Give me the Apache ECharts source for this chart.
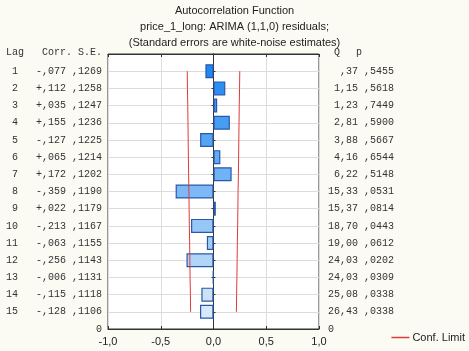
<!DOCTYPE html>
<html>
<head>
<meta charset="utf-8">
<script src="https://cdn.jsdelivr.net/npm/echarts@6/dist/echarts.min.js"></script>
<style>
  html, body { margin: 0; padding: 0; background: #fbfbf4; }
  #chart { width: 469px; height: 351px; }
</style>
</head>
<body>
<div id="chart"></div>
<script>
// Table values
var lags = [1, 2, 3, 4, 5, 6, 7, 8, 9, 10, 11, 12, 13, 14, 15];
var corr = [-0.077, 0.112, 0.035, 0.155, -0.127, 0.065, 0.172, -0.359, 0.022, -0.213, -0.063, -0.256, -0.006, -0.115, -0.128];
var stdErr = [0.1269, 0.1258, 0.1247, 0.1236, 0.1225, 0.1214, 0.1202, 0.1190, 0.1179, 0.1167, 0.1155, 0.1143, 0.1131, 0.1118, 0.1106];
var qStat = [0.37, 1.15, 1.23, 2.81, 3.88, 4.16, 6.22, 15.33, 15.37, 18.70, 19.00, 24.03, 24.03, 25.08, 26.43];
var pVal = [0.5455, 0.5618, 0.7449, 0.5900, 0.5667, 0.6544, 0.5148, 0.0531, 0.0814, 0.0443, 0.0612, 0.0202, 0.0309, 0.0338, 0.0338];
var confLimit = [0.249, 0.247, 0.244, 0.242, 0.240, 0.238, 0.236, 0.233, 0.231, 0.229, 0.226, 0.224, 0.222, 0.219, 0.217];
var xTicks = [-1, -0.5, 0, 0.5, 1];

var mono = "'Liberation Mono', 'Courier New', monospace";
var sans = "'Liberation Sans', Arial, sans-serif";

// category rows: 0 (top edge) .. 16 (bottom edge)
var rows = [];
for (var r = 0; r <= 16; r++) rows.push(String(r));

function fmtFrac(v, digits) {
	// ",1269" style, no leading zero, comma decimal
	var s = Math.abs(v).toFixed(digits).replace('.', ',');
	if (s.charAt(0) == '0') s = s.substring(1);
	return s;
}

function leftLabel(value, idx) {
	if (idx == 16) return '0';
	var i = lags.indexOf(idx);
	if (i < 0) return '';
	var lag = String(lags[i]);
	if (lag.length < 2) lag = ' ' + lag;
	var sign = corr[i] < 0 ? '-' : '+';
	return lag + '   ' + sign + fmtFrac(corr[i], 3) + ' ' + fmtFrac(stdErr[i], 4);
}

function rightLabel(value, idx) {
	if (idx == 16) return '0';
	var i = lags.indexOf(idx);
	if (i < 0) return '';
	var q = fmtFrac(qStat[i], 2);
	while (q.length < 5) q = ' ' + q;
	return q + ' ' + fmtFrac(pVal[i], 4);
}

var chart = echarts.init(document.getElementById('chart'));

var option = {
	animation: false,
	backgroundColor: '#fbfbf4',
	title: {
		text: 'Autocorrelation Function\nprice_1_long: ARIMA (1,1,0) residuals;\n(Standard errors are white-noise estimates)',
		left: 'center',
		top: 3,
		padding: 0,
		textStyle: { fontFamily: sans, fontSize: 11, fontWeight: 'normal', color: '#222', lineHeight: 16 }
	},
	legend: {
		data: [{ name: 'Conf. Limit', icon: 'rect' }],
		right: 4,
		bottom: 8,
		padding: 0,
		itemWidth: 18,
		itemHeight: 1.5,
		textStyle: { fontFamily: sans, fontSize: 11, color: '#222', padding: [0, 0, 0, -2] }
	},
	grid: {
		left: 108, right: 150, top: 54, bottom: 22,
		show: true,
		backgroundColor: '#ffffff',
		borderColor: '#333',
		borderWidth: 1
	},
	xAxis: [{
		type: 'value',
		min: -1, max: 1, interval: 0.5,
		axisLine: { show: true, lineStyle: { color: '#333' } },
		axisTick: { show: true, inside: true, length: 3, lineStyle: { color: '#333' } },
		splitLine: { show: true, lineStyle: { color: '#dcdcdc' } },
		axisLabel: {
			margin: 7,
			fontFamily: sans, fontSize: 11, color: '#222',
			formatter: function (v) {
				if (xTicks.indexOf(v) < 0) return '';
				return v.toFixed(1).replace('.', ',');
			}
		}
	}, {
		type: 'value',
		position: 'top',
		min: -1, max: 1, interval: 0.5,
		axisLine: { show: true, lineStyle: { color: '#333' } },
		axisTick: { show: true, inside: true, length: 3, lineStyle: { color: '#333' } },
		axisLabel: { show: false },
		splitLine: { show: false }
	}],
	yAxis: [{
		type: 'category',
		data: rows,
		inverse: true,
		boundaryGap: false,
		axisLine: { show: true, lineStyle: { color: '#333' } },
		axisTick: { show: true, inside: true, length: 2, interval: 0, lineStyle: { color: '#333' } },
		splitLine: { show: true, interval: 0, lineStyle: { color: '#dcdcdc' } },
		axisLabel: {
			interval: 0, margin: 6,
			fontFamily: mono, fontSize: 10, color: '#333',
			formatter: leftLabel
		}
	}, {
		type: 'category',
		data: rows,
		inverse: true,
		boundaryGap: false,
		position: 'right',
		axisLine: { show: true, lineStyle: { color: '#333' } },
		axisTick: { show: true, inside: true, length: 2, interval: 0, lineStyle: { color: '#333' } },
		splitLine: { show: false },
		axisLabel: {
			interval: 0, margin: 9,
			fontFamily: mono, fontSize: 10, color: '#333',
			formatter: rightLabel
		}
	}],
	graphic: [
		{ type: 'text', left: 6, top: 47, style: { text: 'Lag   Corr. S.E.', font: '10px ' + mono, fill: '#333' } },
		{ type: 'text', left: 334, top: 47, style: { text: 'Q', font: '10px ' + mono, fill: '#333' } },
		{ type: 'text', left: 356, top: 47, style: { text: 'p', font: '10px ' + mono, fill: '#333' } }
	],
	series: [{
		name: 'Corr',
		type: 'bar',
		yAxisIndex: 0,
		barWidth: 14,
		data: lags.map(function (lag, i) { return [corr[i], lag]; }),
		itemStyle: {
			borderColor: '#2a58a8',
			borderWidth: 1.2,
			color: function (p) {
				return echarts.color.lerp(p.dataIndex / (lags.length - 1), ['#2088f2', '#d8eafa']);
			}
		}
	}, {
		name: 'Conf. Limit',
		type: 'line',
		yAxisIndex: 0,
		symbol: 'none',
		color: '#e03a3a',
		lineStyle: { width: 1, color: '#e03a3a' },
		data: lags.map(function (lag, i) { return [-confLimit[i], lag]; })
	}, {
		name: 'Conf. Limit',
		type: 'line',
		yAxisIndex: 0,
		symbol: 'none',
		color: '#e03a3a',
		lineStyle: { width: 1, color: '#e03a3a' },
		data: lags.map(function (lag, i) { return [confLimit[i], lag]; })
	}]
};

chart.setOption(option);
</script>
</body>
</html>
